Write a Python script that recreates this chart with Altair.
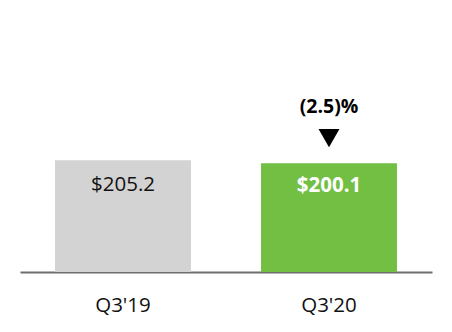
import altair as alt
import pandas as pd

quarters = ["Q3'19", "Q3'20"]
values = [205.2, 200.1]
labels = ["$205.2", "$200.1"]
bar_colors = ["#d3d3d3", "#72bf44"]
change_label = "(2.5)%"

df = pd.DataFrame({"q": quarters, "v": values, "lab": labels, "col": bar_colors})

FONT = "Open Sans"

x = alt.X("q:N", sort=quarters, title=None,
          scale=alt.Scale(paddingInner=0.34, paddingOuter=0.17),
          axis=alt.Axis(labelAngle=0, ticks=False, labelPadding=23, labelFontSize=20.5,
                        labelFont=FONT, labelColor="#111111", domainColor="#6e6e6e",
                        domainWidth=2, grid=False))
y = alt.Y("v:Q", scale=alt.Scale(domain=[0, 500]), axis=None)

base = alt.Chart(df).encode(x=x, y=y)

bars = base.mark_bar().encode(color=alt.Color("col:N", scale=None))

lab1 = base.transform_filter(alt.datum.q == quarters[0]).mark_text(
    dy=25, baseline="middle", fontSize=20.5, font=FONT, color="#111111"
).encode(text="lab:N")
lab2 = base.transform_filter(alt.datum.q == quarters[1]).mark_text(
    dy=23, baseline="middle", fontSize=20.5, font=FONT, fontWeight="bold", color="#ffffff"
).encode(text="lab:N")

ann_df = df[df["q"] == quarters[1]].assign(ch=change_label)
ann_base = alt.Chart(ann_df).encode(x=alt.X("q:N", sort=quarters), y=alt.Y("v:Q"))
ann_text = ann_base.mark_text(dy=-56, baseline="middle", fontSize=19.5, font=FONT,
                              fontWeight="bold", color="#000000").encode(text="ch:N")
ann_tri = ann_base.mark_point(shape="triangle-down", filled=True, size=440,
                              color="#000000", opacity=1, yOffset=-25)

chart = alt.layer(bars, lab1, lab2, ann_text, ann_tri).properties(
    width=412, height=272,
    autosize=alt.AutoSizeParams(type="none"),
    padding={"left": 20, "right": 20, "top": 0, "bottom": 60},
).configure_view(stroke=None)

chart.save("out.html", embed_options={"renderer": "svg", "actions": False})
